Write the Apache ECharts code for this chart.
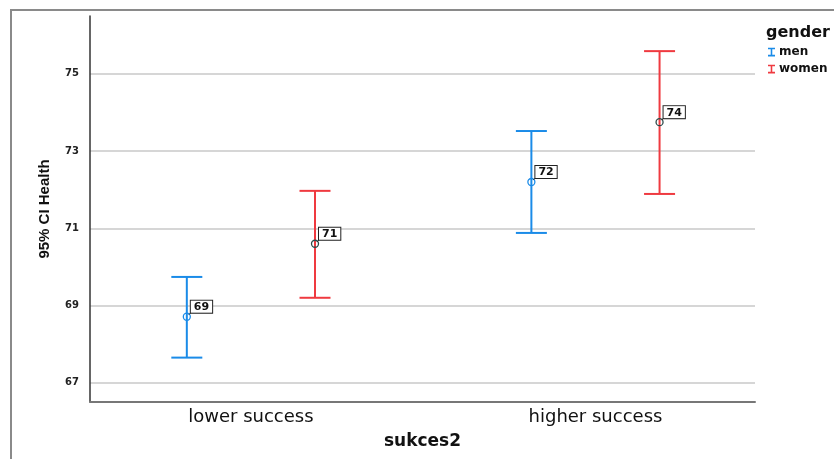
<!DOCTYPE html>
<html>
<head>
<meta charset="utf-8">
<script src="https://cdn.jsdelivr.net/npm/echarts@6/dist/echarts.min.js"></script>
<style>
  html, body { margin: 0; padding: 0; background: #fff; }
  #chart { width: 834px; height: 459px; }
</style>
</head>
<body>
<div id="chart"></div>
<script>
// Group means and 95% confidence limits of Health, by success group and gender
const categories = ['lower success', 'higher success'];
const genders = ['men', 'women'];
const menMean = [68.71, 72.20];
const menLow = [67.65, 70.88];
const menHigh = [69.74, 73.52];
const womenMean = [70.60, 73.75];
const womenLow = [69.20, 71.89];
const womenHigh = [71.97, 75.59];
const yTicks = [67, 69, 71, 73, 75];

const BLUE = '#1a8be8';
const RED = '#ef3a40';

// horizontal shift of each gender within a category slot
const shift = { men: -0.186, women: 0.186 };

function rows(gender, mean, low, high) {
  return categories.map((c, i) => [i + shift[gender], mean[i], low[i], high[i]]);
}

function errorBar(color, markerColor) {
  return function (params, api) {
    const x = api.value(0);
    const pMean = api.coord([x, api.value(1)]);
    const pLow = api.coord([x, api.value(2)]);
    const pHigh = api.coord([x, api.value(3)]);
    const cap = 15.5;
    const lineStyle = { stroke: color, lineWidth: 2 };
    return {
      type: 'group',
      children: [
        { type: 'line', shape: { x1: pLow[0], y1: pLow[1], x2: pHigh[0], y2: pHigh[1] }, style: lineStyle },
        { type: 'line', shape: { x1: pHigh[0] - cap, y1: pHigh[1], x2: pHigh[0] + cap, y2: pHigh[1] }, style: lineStyle },
        { type: 'line', shape: { x1: pLow[0] - cap, y1: pLow[1], x2: pLow[0] + cap, y2: pLow[1] }, style: lineStyle },
        { type: 'circle', shape: { cx: pMean[0], cy: pMean[1], r: 3.5 },
          style: { fill: 'none', stroke: markerColor, lineWidth: 1.3 } },
        { type: 'line', shape: { x1: pMean[0] + 2, y1: pMean[1] - 2, x2: pMean[0] + 5, y2: pMean[1] - 5 },
          style: { stroke: '#222', lineWidth: 1 } },
        { type: 'text', x: pMean[0] + 4, y: pMean[1] - 4,
          style: {
            text: String(Math.round(api.value(1))),
            align: 'left', verticalAlign: 'bottom',
            font: 'bold 11px "DejaVu Sans"', fill: '#111',
            backgroundColor: '#fff', borderColor: '#222', borderWidth: 1,
            padding: [1, 3, 0, 3]
          } }
      ]
    };
  };
}

const chart = echarts.init(document.getElementById('chart'));
chart.setOption({
  animation: false,
  backgroundColor: '#fff',
  graphic: [{
    type: 'rect', z: -1, silent: true,
    shape: { x: 11, y: 10, width: 900, height: 600 },
    style: { fill: 'none', stroke: '#8a8a8a', lineWidth: 2 }
  }],
  title: {
    text: 'gender', left: 761, top: 20,
    textStyle: { fontFamily: 'DejaVu Sans', fontWeight: 'bold', fontSize: 16, color: '#111' }
  },
  legend: {
    orient: 'vertical', left: 763, top: 41, itemGap: 5,
    itemWidth: 7, itemHeight: 11,
    textStyle: { fontFamily: 'DejaVu Sans', fontWeight: 'bold', fontSize: 12, color: '#111', padding: [0, 0, 0, -1] },
    data: genders.map(g => ({
      name: g,
      icon: 'path://M0,0h8v1.8h-8z M3.1,0h1.8v10h-1.8z M0,8.2h8v1.8h-8z',
      itemStyle: { color: g === 'men' ? BLUE : RED }
    }))
  },
  grid: { left: 90, right: 79, top: 16, bottom: 57 },
  xAxis: {
    type: 'value', min: -0.467, max: 1.463,
    name: 'sukces2', nameLocation: 'middle', nameGap: 31,
    nameTextStyle: { fontFamily: 'DejaVu Sans', fontWeight: 'bold', fontSize: 17, color: '#111' },
    axisLine: { show: true, onZero: false, lineStyle: { color: '#777', width: 2 } },
    axisTick: { show: false },
    splitLine: { show: false },
    axisLabel: {
      customValues: [0, 1],
      formatter: v => categories[Math.round(v)],
      fontFamily: 'DejaVu Sans', fontSize: 18, color: '#111', margin: 6
    }
  },
  yAxis: {
    type: 'value', min: 66.5, max: 76.5,
    name: '95% CI Health', nameLocation: 'middle', nameGap: 38,
    nameTextStyle: { fontFamily: 'Liberation Sans', fontWeight: 'bold', fontSize: 15, color: '#111' },
    axisLine: { show: true, onZero: false, lineStyle: { color: '#333', width: 1.5 } },
    axisTick: { show: false, customValues: yTicks },
    splitLine: { show: true, lineStyle: { color: '#c8c8c8', width: 1.5 } },
    axisLabel: {
      customValues: yTicks,
      fontFamily: 'DejaVu Sans', fontWeight: 'bold', fontSize: 10, color: '#222', margin: 11
    }
  },
  series: [
    { name: 'men', type: 'custom', renderItem: errorBar(BLUE, BLUE),
      itemStyle: { color: BLUE }, data: rows('men', menMean, menLow, menHigh) },
    { name: 'women', type: 'custom', renderItem: errorBar(RED, '#2c4a4a'),
      itemStyle: { color: RED }, data: rows('women', womenMean, womenLow, womenHigh) }
  ]
});
</script>
</body>
</html>
